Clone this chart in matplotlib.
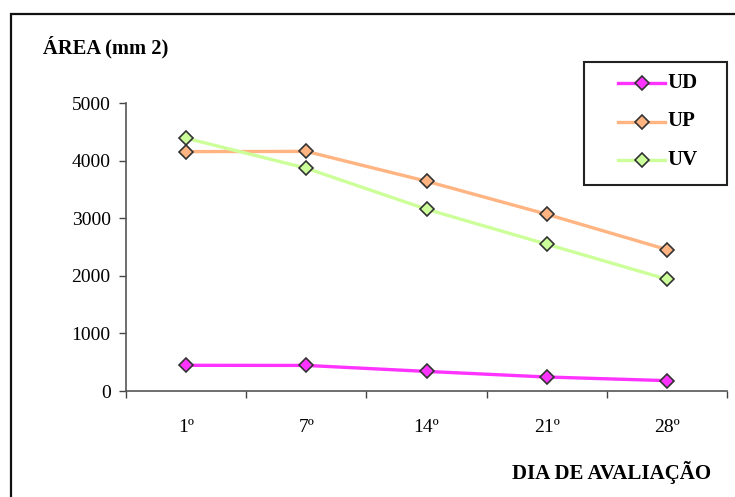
import matplotlib
matplotlib.use("Agg")
import matplotlib.pyplot as plt
from matplotlib.patches import Rectangle
from matplotlib.lines import Line2D
import numpy as np

categories = ["1º", "7º", "14º", "21º", "28º"]
ud = [446, 444, 340, 243, 180]
up = [4156, 4160, 3642, 3069, 2455]
uv = [4389, 3868, 3156, 2549, 1941]
series_names = ["UD", "UP", "UV"]
series_colors = ["#FF33FF", "#FFB482", "#CCFF99"]
y_ticks = [0, 1000, 2000, 3000, 4000, 5000]

plt.rcParams['font.family'] = ['Liberation Serif', 'DejaVu Serif']

W, H = 735, 497
fig = plt.figure(figsize=(W / 100, H / 100), dpi=100)
ax = fig.add_axes([126 / W, 1 - 391 / H, (727 - 126) / W, (391 - 103) / H])

x = np.arange(len(categories))
mk = dict(marker='D', markersize=7, markeredgecolor='#333333', markeredgewidth=1.2)
for vals, name, col in zip([ud, up, uv], series_names, series_colors):
    ax.plot(x, vals, color=col, lw=2.4, markerfacecolor=col, label=name,
            clip_on=False, zorder=3, **mk)

ax.set_xlim(-0.5, len(categories) - 0.5)
ax.set_ylim(0, 5000)
ax.set_yticks(y_ticks)
ax.set_yticklabels([str(v) for v in y_ticks], fontsize=14)
ax.set_xticks(x)
ax.set_xticklabels(categories, fontsize=14)
ax.set_xticks(np.arange(-0.5, len(categories)), minor=True)
ax.tick_params(axis='x', which='major', length=0, pad=20)
ax.tick_params(axis='x', which='minor', length=5, width=1, color='#444444', direction='out')
ax.tick_params(axis='y', which='major', length=5, width=1, color='#444444', direction='out', pad=6)
for s in ['top', 'right']:
    ax.spines[s].set_visible(False)
for s in ['left', 'bottom']:
    ax.spines[s].set_color('#555555')
    ax.spines[s].set_linewidth(1.2)

# manual legend (pixel layout converted to figure fractions)
def fx(px):
    return px / W

def fy(py):
    return 1 - py / H

fig.add_artist(Rectangle((fx(584), fy(185)), fx(727) - fx(584), fy(62) - fy(185),
                         transform=fig.transFigure, fill=False, edgecolor='#222222',
                         linewidth=1.5))
for i, (name, col) in enumerate(zip(series_names, series_colors)):
    yy = fy(83 + i * 38.5)
    fig.add_artist(Line2D([fx(618), fx(665)], [yy, yy], transform=fig.transFigure,
                          color=col, lw=2.4))
    fig.add_artist(Line2D([fx(641.5)], [yy], transform=fig.transFigure,
                          markerfacecolor=col, linestyle='none', **mk))
    fig.text(fx(667), yy, name, fontsize=15, fontweight='bold', va='center', ha='left')

fig.text(fx(43), fy(47), "ÁREA (mm 2)", fontsize=14.8, fontweight='bold', va='center', ha='left')
fig.text(fx(711), fy(472), "DIA DE AVALIAÇÃO", fontsize=15, fontweight='bold', va='center', ha='right')

fig.add_artist(Rectangle((fx(11), -0.1), 1.2, 1.1 - 14 / H, transform=fig.transFigure,
                         fill=False, edgecolor='#111111', linewidth=1.6))

fig.savefig("out.png", dpi=100)
